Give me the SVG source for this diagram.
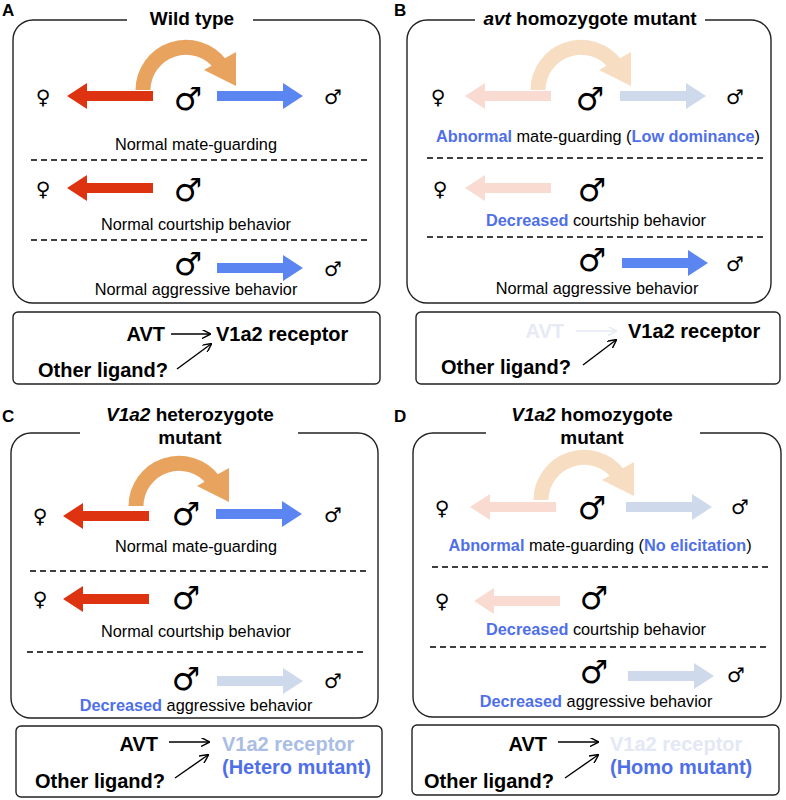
<svg xmlns="http://www.w3.org/2000/svg" width="786" height="800" viewBox="0 0 786 800">
<defs>
<style>
text{font-family:"Liberation Sans",Arial,sans-serif;fill:#000}
.lab{font-size:17px;font-weight:bold}
.ttl{font-size:19px;font-weight:bold;text-anchor:middle}
.t{font-size:16.3px;text-anchor:middle}
.b{fill:#4f6fe8;font-weight:bold}
.rb{font-size:20px;font-weight:bold}
.sym{font-family:"DejaVu Sans",sans-serif}
.big{font-size:32px;text-anchor:middle;font-weight:bold}
.sm{font-size:20px;text-anchor:middle}
.box{fill:none;stroke:#222;stroke-width:1.4}
.dash{stroke:#000;stroke-width:1.3;stroke-dasharray:6,4}
.ln{stroke:#000;stroke-width:1.4;fill:none}
.red{fill:#dd3311}.blue{fill:#5b85f0}
.fred{fill:#f9dbd2}.fblue{fill:#cfd9ec}
</style>
<path id="arr" d="M0,-5 H66 V-13 L86,0 L66,13 V5 H0 Z"/>
<path id="crv" d="M-43,0 A43,43 0 0 1 36,-20.5 L37,-21.5 L23,-13.5 L54,-30 L47,-5 Z" />
<marker id="ah" viewBox="0 0 10 10" refX="9" refY="5" markerWidth="9" markerHeight="9" markerUnits="userSpaceOnUse" orient="auto"><path d="M0,0 L10,5 L0,10" fill="none" stroke="#000" stroke-width="1.6"/></marker>
<marker id="ahf" viewBox="0 0 10 10" refX="9" refY="5" markerWidth="9" markerHeight="9" markerUnits="userSpaceOnUse" orient="auto"><path d="M0,0 L10,5 L0,10" fill="none" stroke="#e6eaf5" stroke-width="1.6"/></marker>
<g id="curveO">
<path d="M-43,0 A43,43 0 0 1 34,-26" fill="none" stroke-width="15" stroke="#e8a35e"/>
<path d="M18,-20 L50,-38 L50,-4 Z" fill="#e8a35e"/>
</g>
<g id="curveF">
<path d="M-43,0 A43,43 0 0 1 34,-26" fill="none" stroke-width="15" stroke="#f7ddc1"/>
<path d="M18,-20 L50,-38 L50,-4 Z" fill="#f7ddc1"/>
</g>
</defs>
<rect width="786" height="800" fill="#fff"/>

<g id="panelA">
<text x="2" y="16" class="lab">A</text>
<path class="box" d="M127,20 H33 A20,20 0 0 0 13,40 V283 A20,20 0 0 0 33,303 H360 A20,20 0 0 0 380,283 V40 A20,20 0 0 0 360,20 H253"/>
<text x="192" y="25" class="ttl">Wild type</text>
<use href="#curveO" transform="translate(186,90)"/>
<use href="#arr" class="red" transform="translate(153,96) scale(-1,1)"/>
<use href="#arr" class="blue" transform="translate(217,96)"/>
<text x="43" y="104" class="sym sm">♀</text>
<text x="188" y="110" class="sym big">♂</text>
<text x="333" y="104" class="sym sm">♂</text>
<text x="196" y="150" class="t">Normal mate-guarding</text>
<line x1="31" y1="160" x2="367" y2="160" class="dash"/>
<use href="#arr" class="red" transform="translate(153,188) scale(-1,1)"/>
<text x="43" y="196" class="sym sm">♀</text>
<text x="188" y="201" class="sym big">♂</text>
<text x="196" y="230" class="t">Normal courtship behavior</text>
<line x1="31" y1="240" x2="367" y2="240" class="dash"/>
<use href="#arr" class="blue" transform="translate(217,268)"/>
<text x="188" y="275" class="sym big">♂</text>
<text x="333" y="276" class="sym sm">♂</text>
<text x="196" y="295" class="t">Normal aggressive behavior</text>
</g>
<g id="boxA">
<rect x="13" y="312" width="367" height="72" rx="5" class="box"/>
<text x="165" y="341" class="rb" text-anchor="end">AVT</text>
<line x1="171" y1="334" x2="210" y2="334" class="ln" marker-end="url(#ah)"/>
<text x="216" y="341" class="rb">V1a2 receptor</text>
<text x="38" y="377" class="rb">Other ligand?</text>
<line x1="177" y1="369" x2="211" y2="344" class="ln" marker-end="url(#ah)"/>
</g>

<g id="panelB">
<text x="394" y="16" class="lab">B</text>
<path class="box" d="M475,20 H427 A20,20 0 0 0 407,40 V283 A20,20 0 0 0 427,303 H751 A20,20 0 0 0 771,283 V40 A20,20 0 0 0 751,20 H705"/>
<text x="590" y="25" class="ttl"><tspan font-style="italic">avt</tspan> homozygote mutant</text>
<use href="#curveF" transform="translate(581,90)"/>
<use href="#arr" class="fred" transform="translate(551,96) scale(-1,1)"/>
<use href="#arr" class="fblue" transform="translate(620,96)"/>
<text x="438" y="104" class="sym sm">♀</text>
<text x="590" y="110" class="sym big">♂</text>
<text x="735" y="104" class="sym sm">♂</text>
<text x="598" y="142" class="t"><tspan class="b">Abnormal</tspan> mate-guarding (<tspan class="b">Low dominance</tspan>)</text>
<line x1="427" y1="158" x2="765" y2="158" class="dash"/>
<use href="#arr" class="fred" transform="translate(551,188) scale(-1,1)"/>
<text x="440" y="196" class="sym sm">♀</text>
<text x="592" y="201" class="sym big">♂</text>
<text x="596" y="226" class="t"><tspan class="b">Decreased</tspan> courtship behavior</text>
<line x1="427" y1="237" x2="765" y2="237" class="dash"/>
<use href="#arr" class="blue" transform="translate(622,263)"/>
<text x="592" y="271" class="sym big">♂</text>
<text x="735" y="271" class="sym sm">♂</text>
<text x="597" y="294" class="t">Normal aggressive behavior</text>
</g>
<g id="boxB">
<rect x="416" y="312" width="364" height="72" rx="5" class="box"/>
<text x="564" y="338" class="rb" text-anchor="end" style="fill:#e6eaf5">AVT</text>
<line x1="576" y1="331" x2="616" y2="331" stroke="#e6eaf5" stroke-width="1.4" marker-end="url(#ahf)"/>
<text x="628" y="338" class="rb">V1a2 receptor</text>
<text x="441" y="374" class="rb">Other ligand?</text>
<line x1="583" y1="365" x2="616" y2="340" class="ln" marker-end="url(#ah)"/>
</g>

<g id="panelC">
<text x="2" y="422" class="lab">C</text>
<path class="box" d="M80,433 H31 A20,20 0 0 0 11,453 V698 A20,20 0 0 0 31,718 H358 A20,20 0 0 0 378,698 V453 A20,20 0 0 0 358,433 H298"/>
<text x="190" y="421" class="ttl"><tspan font-style="italic">V1a2</tspan> heterozygote</text>
<text x="190" y="444" class="ttl">mutant</text>
<use href="#curveO" transform="translate(179,506)"/>
<use href="#arr" class="red" transform="translate(149,516) scale(-1,1)"/>
<use href="#arr" class="blue" transform="translate(216,514)"/>
<text x="40" y="523" class="sym sm">♀</text>
<text x="186" y="525" class="sym big">♂</text>
<text x="333" y="522" class="sym sm">♂</text>
<text x="196" y="552" class="t">Normal mate-guarding</text>
<line x1="30" y1="571" x2="366" y2="571" class="dash"/>
<use href="#arr" class="red" transform="translate(149,599) scale(-1,1)"/>
<text x="40" y="606" class="sym sm">♀</text>
<text x="186" y="609" class="sym big">♂</text>
<text x="196" y="637" class="t">Normal courtship behavior</text>
<line x1="27" y1="652" x2="366" y2="652" class="dash"/>
<use href="#arr" class="fblue" transform="translate(217,681)"/>
<text x="186" y="690" class="sym big">♂</text>
<text x="333" y="688" class="sym sm">♂</text>
<text x="196" y="711" class="t"><tspan class="b">Decreased</tspan> aggressive behavior</text>
</g>
<g id="boxC">
<rect x="16" y="726" width="366" height="71" rx="5" class="box"/>
<text x="158" y="751" class="rb" text-anchor="end">AVT</text>
<line x1="169" y1="742" x2="209" y2="742" class="ln" marker-end="url(#ah)"/>
<text x="222" y="751" class="rb" style="fill:#a9bde6">V1a2 receptor</text>
<text x="222" y="774" class="rb" style="fill:#4f6fe8">(Hetero mutant)</text>
<text x="35" y="788" class="rb">Other ligand?</text>
<line x1="175" y1="778" x2="208" y2="755" class="ln" marker-end="url(#ah)"/>
</g>

<g id="panelD">
<text x="394" y="422" class="lab">D</text>
<path class="box" d="M486,433 H433 A20,20 0 0 0 413,453 V697 A20,20 0 0 0 433,717 H761 A20,20 0 0 0 781,697 V453 A20,20 0 0 0 761,433 H700"/>
<text x="592" y="421" class="ttl"><tspan font-style="italic">V1a2</tspan> homozygote</text>
<text x="592" y="444" class="ttl">mutant</text>
<use href="#curveF" transform="translate(584,500)"/>
<use href="#arr" class="fred" transform="translate(556,507) scale(-1,1)"/>
<use href="#arr" class="fblue" transform="translate(626,507)"/>
<text x="442" y="515" class="sym sm">♀</text>
<text x="592" y="519" class="sym big">♂</text>
<text x="740" y="514" class="sym sm">♂</text>
<text x="600" y="551" class="t"><tspan class="b">Abnormal</tspan> mate-guarding (<tspan class="b">No elicitation</tspan>)</text>
<line x1="432" y1="567" x2="768" y2="567" class="dash"/>
<use href="#arr" class="fred" transform="translate(560,601) scale(-1,1)"/>
<text x="442" y="608" class="sym sm">♀</text>
<text x="594" y="609" class="sym big">♂</text>
<text x="596" y="635" class="t"><tspan class="b">Decreased</tspan> courtship behavior</text>
<line x1="430" y1="647" x2="768" y2="647" class="dash"/>
<use href="#arr" class="fblue" transform="translate(628,676)"/>
<text x="594" y="683" class="sym big">♂</text>
<text x="736" y="682" class="sym sm">♂</text>
<text x="596" y="707" class="t"><tspan class="b">Decreased</tspan> aggressive behavior</text>
</g>
<g id="boxD">
<rect x="412" y="725" width="367" height="70" rx="5" class="box"/>
<text x="547" y="751" class="rb" text-anchor="end">AVT</text>
<line x1="558" y1="742" x2="598" y2="742" class="ln" marker-end="url(#ah)"/>
<text x="610" y="751" class="rb" style="fill:#e3e8f5">V1a2 receptor</text>
<text x="610" y="774" class="rb" style="fill:#4f6fe8">(Homo mutant)</text>
<text x="424" y="788" class="rb">Other ligand?</text>
<line x1="565" y1="778" x2="598" y2="755" class="ln" marker-end="url(#ah)"/>
</g>
</svg>
